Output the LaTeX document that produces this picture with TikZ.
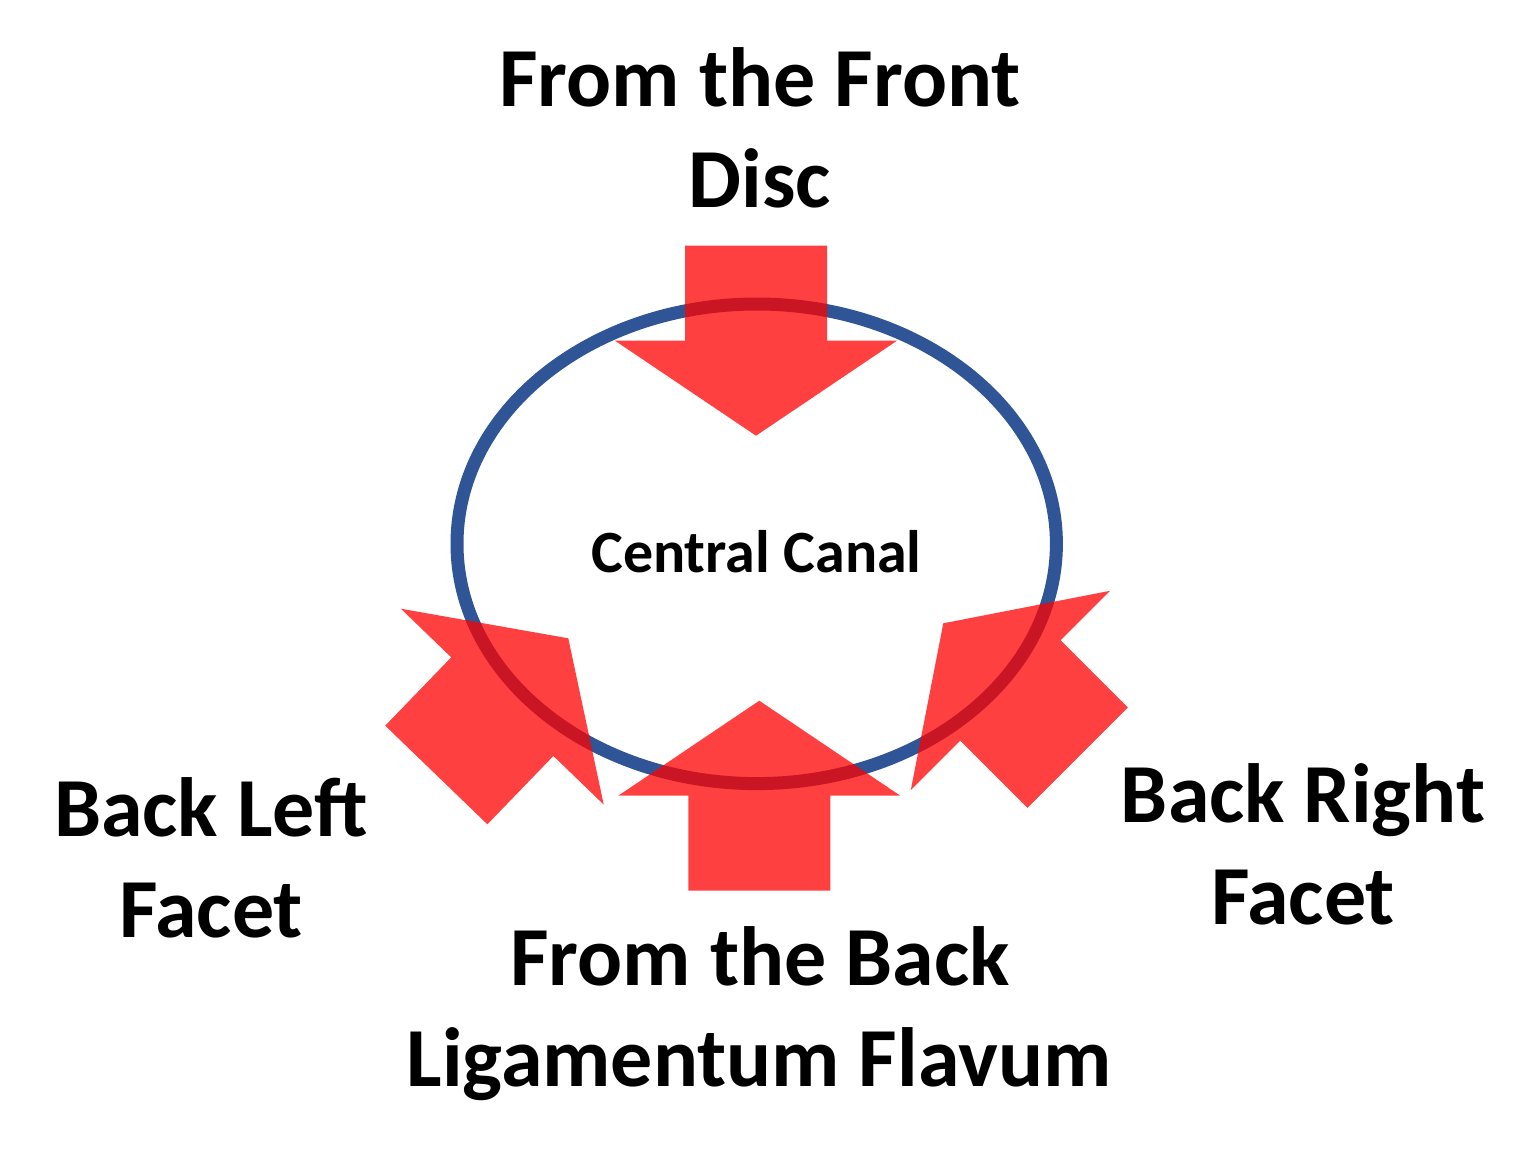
\documentclass[tikz,border=0pt]{standalone}
\usepackage{fontspec}
\setmainfont{Carlito}
\usetikzlibrary{shapes.geometric, positioning}
\definecolor{canalblue}{HTML}{2F5597}
\definecolor{squeezered}{HTML}{FF0000}
\tikzset{
    squeeze/.pic={
        % Head
        \fill[squeezered, fill opacity=0.75] (0,0) -- (141,-95) -- (71,-95)
            % Shaft
            -- (71,-190) -- (-71,-190) -- (-71,-95) -- (-141,-95) -- cycle;
},
    biglabel/.style={font=\bfseries\fontsize{42}{50}\selectfont, inner sep=0pt, anchor=base},
    smalllabel/.style={font=\bfseries\fontsize{30}{36}\selectfont, inner sep=0pt, anchor=base},
}
\begin{document}
\begin{tikzpicture}[x=0.5pt, y=-0.5pt]
            \useasboundingbox (0,0) rectangle (1536,1157);

            % Canal
            \node[ellipse, draw=canalblue, line width=6.5pt, inner sep=0pt, minimum width=299.7pt, minimum height=239.8pt] (canal) at (756.7,543.8) {};
            \node[smalllabel] (canaltext) at (756.5,572) {Central Canal};

            % Arrows
            \pic at (756,435.7) {squeeze};
            \pic[rotate=180] at (759.3,700.7) {squeeze};
            \pic[rotate=136] at (568.3,638.3) {squeeze};
            \pic[rotate=225] at (943.3,623.3) {squeeze};

            % Labels
            \node[biglabel] (front) at (760,106) {From the Front};
            \node[biglabel] (disc) at (760,207) {Disc};
            \node[biglabel] (backleft) at (211,836) {Back Left};
            \node[biglabel] (leftfacet) at (211,937) {Facet};
            \node[biglabel] (backright) at (1303,822) {Back Right};
            \node[biglabel] (rightfacet) at (1303,924) {Facet};
            \node[biglabel] (back) at (760,985) {From the Back};
            \node[biglabel] (flavum) at (759,1086) {Ligamentum Flavum};

        \end{tikzpicture}
\end{document}
